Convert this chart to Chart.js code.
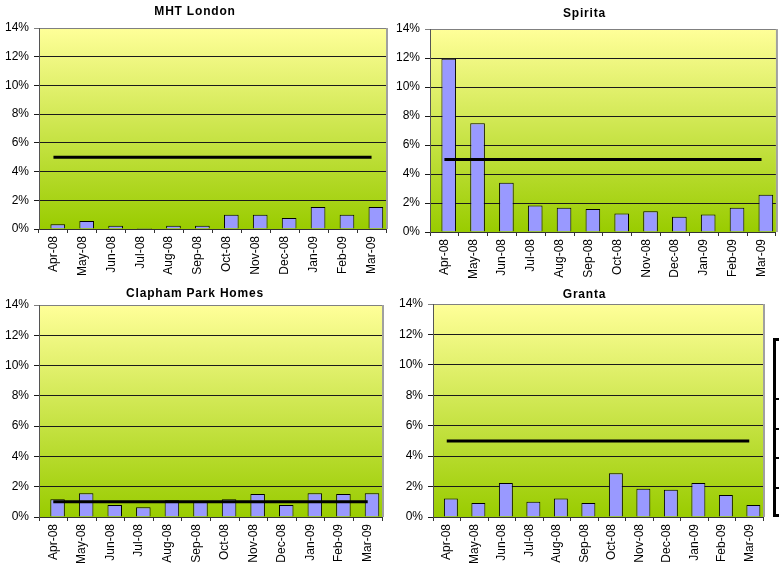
<!DOCTYPE html>
<html>
<head>
<meta charset="utf-8">
<script src="https://cdn.jsdelivr.net/npm/chart.js@4/dist/chart.umd.min.js"></script>
<style>
    html, body { margin: 0; padding: 0; background: #fff; }
    #wrap { position: relative; width: 779px; height: 573px; overflow: hidden; }
    .panel { position: absolute; }
    #tableFrag { position: absolute; left: 773px; top: 338px; width: 20px; height: 179px;
        border: 3px solid #000; box-sizing: border-box; }
    .rowLine { position: absolute; left: 0; width: 20px; height: 0; border-top: 2px solid #000; }
</style>
</head>
<body>
<div id="wrap">
    <canvas id="c1" class="panel"></canvas>
    <canvas id="c2" class="panel"></canvas>
    <canvas id="c3" class="panel"></canvas>
    <canvas id="c4" class="panel"></canvas>
    <div id="tableFrag">
        <div class="rowLine" style="top:57px"></div>
        <div class="rowLine" style="top:87px"></div>
        <div class="rowLine" style="top:116px"></div>
        <div class="rowLine" style="top:146px"></div>
    </div>
</div>
<script>
// Data
const months = ['Apr-08', 'May-08', 'Jun-08', 'Jul-08', 'Aug-08', 'Sep-08',
    'Oct-08', 'Nov-08', 'Dec-08', 'Jan-09', 'Feb-09', 'Mar-09'];

const mhtLondon = [0.33, 0.56, 0.23, 0.07, 0.23, 0.23, 1.0, 1.0, 0.77, 1.53, 1.0, 1.53];
const mhtTarget = [5, 5, 5, 5, 5, 5, 5, 5, 5, 5, 5, 5];

const spirita = [11.95, 7.5, 3.4, 1.82, 1.67, 1.58, 1.28, 1.43, 1.05, 1.2, 1.67, 2.57];
const spiritaTarget = [5, 5, 5, 5, 5, 5, 5, 5, 5, 5, 5, 5];

const claphamPark = [1.18, 1.57, 0.79, 0.64, 1.1, 1.03, 1.18, 1.52, 0.79, 1.57, 1.52, 1.57];
const claphamTarget = [1, 1, 1, 1, 1, 1, 1, 1, 1, 1, 1, 1];

const granta = [1.22, 0.92, 2.23, 1.0, 1.22, 0.92, 2.88, 1.86, 1.79, 2.23, 1.44, 0.79];
const grantaTarget = [5, 5, 5, 5, 5, 5, 5, 5, 5, 5, 5, 5];

// empty series that holds the left slot in each category (as in the source chart)
const spacer = [null, null, null, null, null, null, null, null, null, null, null, null];

const yTicks = [0, 2, 4, 6, 8, 10, 12, 14];

// Layout of the four panels (canvas box + plot area inside it)
const panels = [
    { id: 'c1', title: 'MHT London', bars: mhtLondon, target: mhtTarget,
      left: 0, top: 0, w: 390, h: 282, plot: { l: 39, t: 28, r: 386, b: 229 }, titleY: 12 },
    { id: 'c2', title: 'Spirita', bars: spirita, target: spiritaTarget,
      left: 390, top: 0, w: 389, h: 282, plot: { l: 40, t: 29, r: 387, b: 232 }, titleY: 14 },
    { id: 'c3', title: 'Clapham Park Homes', bars: claphamPark, target: claphamTarget,
      left: 0, top: 282, w: 390, h: 291, plot: { l: 39, t: 23, r: 382, b: 235 }, titleY: 12 },
    { id: 'c4', title: 'Granta', bars: granta, target: grantaTarget,
      left: 390, top: 282, w: 389, h: 291, plot: { l: 43, t: 22, r: 373, b: 235 }, titleY: 13 }
];

Chart.defaults.font.family = "Arial, 'Liberation Sans', sans-serif";
Chart.defaults.color = '#000';

// Plot background gradient, grey frame and spaced-out title
const plotBg = {
    id: 'plotBg',
    beforeDraw(chart) {
        const { ctx, chartArea: a } = chart;
        const g = ctx.createLinearGradient(0, a.top, 0, a.bottom);
        g.addColorStop(0, '#FFFF99');
        g.addColorStop(1, '#99CC00');
        ctx.save();
        ctx.fillStyle = g;
        ctx.fillRect(a.left, a.top, a.right - a.left, a.bottom - a.top);
        ctx.restore();
    },
    afterDraw(chart, args, opts) {
        const { ctx, chartArea: a } = chart;
        ctx.save();
        ctx.strokeStyle = '#a0a0a0';
        ctx.lineWidth = 2;
        ctx.beginPath();
        ctx.moveTo(a.right + 1, a.top);
        ctx.lineTo(a.right + 1, a.bottom);
        ctx.stroke();

        // title
        ctx.font = "bold 12px Arial, 'Liberation Sans', sans-serif";
        ctx.letterSpacing = '0.8px';
        ctx.fillStyle = '#000';
        ctx.textAlign = 'center';
        ctx.textBaseline = 'middle';
        ctx.fillText(opts.text, chart.width / 2, opts.y);
        ctx.restore();
    }
};

panels.forEach(p => {
    const canvas = document.getElementById(p.id);
    canvas.style.left = p.left + 'px';
    canvas.style.top = p.top + 'px';
    canvas.style.width = p.w + 'px';
    canvas.style.height = p.h + 'px';
    canvas.width = p.w;
    canvas.height = p.h;

    new Chart(canvas.getContext('2d'), {
        type: 'bar',
        data: {
            labels: months,
            datasets: [
                {
                    type: 'line',
                    data: p.target,
                    borderColor: '#000',
                    borderWidth: 3,
                    pointRadius: 0,
                    fill: false,
                    order: 0
                },
                {
                    data: spacer,
                    backgroundColor: '#9999FF',
                    order: 1
                },
                {
                    data: p.bars,
                    backgroundColor: '#9999FF',
                    borderColor: '#000',
                    borderWidth: 1,
                    order: 1
                }
            ]
        },
        options: {
            responsive: false,
            animation: false,
            categoryPercentage: 0.6,
            barPercentage: 1.69,
            layout: { padding: { left: 0, top: p.plot.t, right: p.w - p.plot.r, bottom: 0 } },
            plugins: {
                legend: { display: false },
                tooltip: { enabled: false },
                title: { display: false },
                plotBg: { text: p.title, y: p.titleY }
            },
            scales: {
                x: {
                    afterFit: (s) => { s.height = p.h - p.plot.b; },
                    grid: {
                        offset: true,
                        drawOnChartArea: false,
                        drawTicks: true,
                        tickLength: 4,
                        color: '#333'
                    },
                    border: { color: '#333', width: 1 },
                    ticks: {
                        autoSkip: false,
                        maxRotation: 90,
                        minRotation: 90,
                        padding: 3,
                        font: { size: 12 }
                    }
                },
                y: {
                    min: 0,
                    max: 14,
                    afterFit: (s) => { s.width = p.plot.l; },
                    afterBuildTicks: (s) => { s.ticks = yTicks.map(v => ({ value: v })); },
                    grid: {
                        color: (c) => (c.tick && c.tick.value === 14 ? '#808080' : '#1a1a1a'),
                        lineWidth: 1,
                        tickLength: 5
                    },
                    border: { color: '#555', width: 1 },
                    ticks: {
                        padding: 5,
                        font: { size: 12 },
                        callback: (v) => v + '%'
                    }
                }
            }
        },
        plugins: [plotBg]
    });
});
</script>
</body>
</html>
